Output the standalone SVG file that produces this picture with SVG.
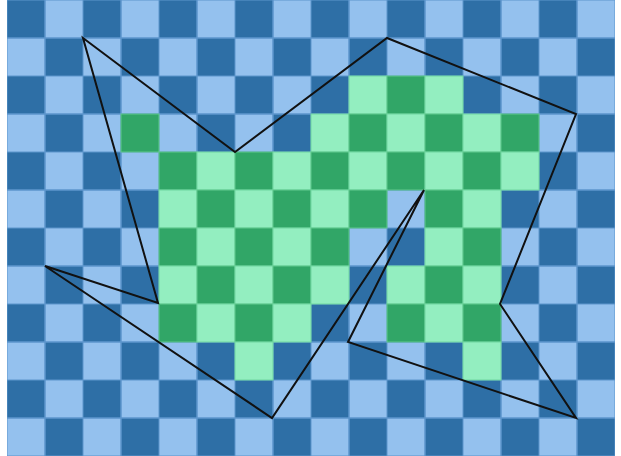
<svg xmlns="http://www.w3.org/2000/svg" width="621" height="456" viewBox="0 0 621 456">
  <style>
    .gd { fill: #31a667; stroke: #62c98f; stroke-width: 1; }
    .gl { fill: #93eec0; stroke: #6fd6a0; stroke-width: 1; }
    .poly { fill: none; stroke: #111; stroke-width: 2; stroke-linejoin: miter; stroke-miterlimit: 4; }
  </style>
  <defs>
    <pattern id="checker" patternUnits="userSpaceOnUse" x="7" y="0" width="76" height="76">
      <rect x="0" y="0" width="76" height="76" fill="#94c1ee"/>
      <rect x="0" y="0" width="38" height="38" fill="#2e6fa6" stroke="#5c96cd" stroke-width="1"/>
      <rect x="38" y="38" width="38" height="38" fill="#2e6fa6" stroke="#5c96cd" stroke-width="1"/>
      <rect x="38" y="0" width="38" height="38" fill="none" stroke="#5c96cd" stroke-width="1"/>
      <rect x="0" y="38" width="38" height="38" fill="none" stroke="#5c96cd" stroke-width="1"/>
    </pattern>
  </defs>
  <rect x="0" y="0" width="621" height="456" fill="#ffffff"/>
  <g id="board">
    <rect x="7" y="0" width="608" height="456" fill="url(#checker)"/>
  </g>
  <g id="region">
    <!-- row 2 -->
    <rect class="gl" x="349" y="76" width="38" height="38"/>
    <rect class="gd" x="387" y="76" width="38" height="38"/>
    <rect class="gl" x="425" y="76" width="38" height="38"/>
    <!-- row 3 -->
    <rect class="gd" x="121" y="114" width="38" height="38"/>
    <rect class="gl" x="311" y="114" width="38" height="38"/>
    <rect class="gd" x="349" y="114" width="38" height="38"/>
    <rect class="gl" x="387" y="114" width="38" height="38"/>
    <rect class="gd" x="425" y="114" width="38" height="38"/>
    <rect class="gl" x="463" y="114" width="38" height="38"/>
    <rect class="gd" x="501" y="114" width="38" height="38"/>
    <!-- row 4 -->
    <rect class="gd" x="159" y="152" width="38" height="38"/>
    <rect class="gl" x="197" y="152" width="38" height="38"/>
    <rect class="gd" x="235" y="152" width="38" height="38"/>
    <rect class="gl" x="273" y="152" width="38" height="38"/>
    <rect class="gd" x="311" y="152" width="38" height="38"/>
    <rect class="gl" x="349" y="152" width="38" height="38"/>
    <rect class="gd" x="387" y="152" width="38" height="38"/>
    <rect class="gl" x="425" y="152" width="38" height="38"/>
    <rect class="gd" x="463" y="152" width="38" height="38"/>
    <rect class="gl" x="501" y="152" width="38" height="38"/>
    <!-- row 5 -->
    <rect class="gl" x="159" y="190" width="38" height="38"/>
    <rect class="gd" x="197" y="190" width="38" height="38"/>
    <rect class="gl" x="235" y="190" width="38" height="38"/>
    <rect class="gd" x="273" y="190" width="38" height="38"/>
    <rect class="gl" x="311" y="190" width="38" height="38"/>
    <rect class="gd" x="349" y="190" width="38" height="38"/>
    <rect class="gd" x="425" y="190" width="38" height="38"/>
    <rect class="gl" x="463" y="190" width="38" height="38"/>
    <!-- row 6 -->
    <rect class="gd" x="159" y="228" width="38" height="38"/>
    <rect class="gl" x="197" y="228" width="38" height="38"/>
    <rect class="gd" x="235" y="228" width="38" height="38"/>
    <rect class="gl" x="273" y="228" width="38" height="38"/>
    <rect class="gd" x="311" y="228" width="38" height="38"/>
    <rect class="gl" x="425" y="228" width="38" height="38"/>
    <rect class="gd" x="463" y="228" width="38" height="38"/>
    <!-- row 7 -->
    <rect class="gl" x="159" y="266" width="38" height="38"/>
    <rect class="gd" x="197" y="266" width="38" height="38"/>
    <rect class="gl" x="235" y="266" width="38" height="38"/>
    <rect class="gd" x="273" y="266" width="38" height="38"/>
    <rect class="gl" x="311" y="266" width="38" height="38"/>
    <rect class="gl" x="387" y="266" width="38" height="38"/>
    <rect class="gd" x="425" y="266" width="38" height="38"/>
    <rect class="gl" x="463" y="266" width="38" height="38"/>
    <!-- row 8 -->
    <rect class="gd" x="159" y="304" width="38" height="38"/>
    <rect class="gl" x="197" y="304" width="38" height="38"/>
    <rect class="gd" x="235" y="304" width="38" height="38"/>
    <rect class="gl" x="273" y="304" width="38" height="38"/>
    <rect class="gd" x="387" y="304" width="38" height="38"/>
    <rect class="gl" x="425" y="304" width="38" height="38"/>
    <rect class="gd" x="463" y="304" width="38" height="38"/>
    <!-- row 9 -->
    <rect class="gl" x="235" y="342" width="38" height="38"/>
    <rect class="gl" x="463" y="342" width="38" height="38"/>
  </g>
  <g id="outline">
    <polygon class="poly" points="83,38 235,152 387,38 576,114 500,304 576,418 348,342 424,190 272,418 45,266 158,303"/>
  </g>
</svg>
